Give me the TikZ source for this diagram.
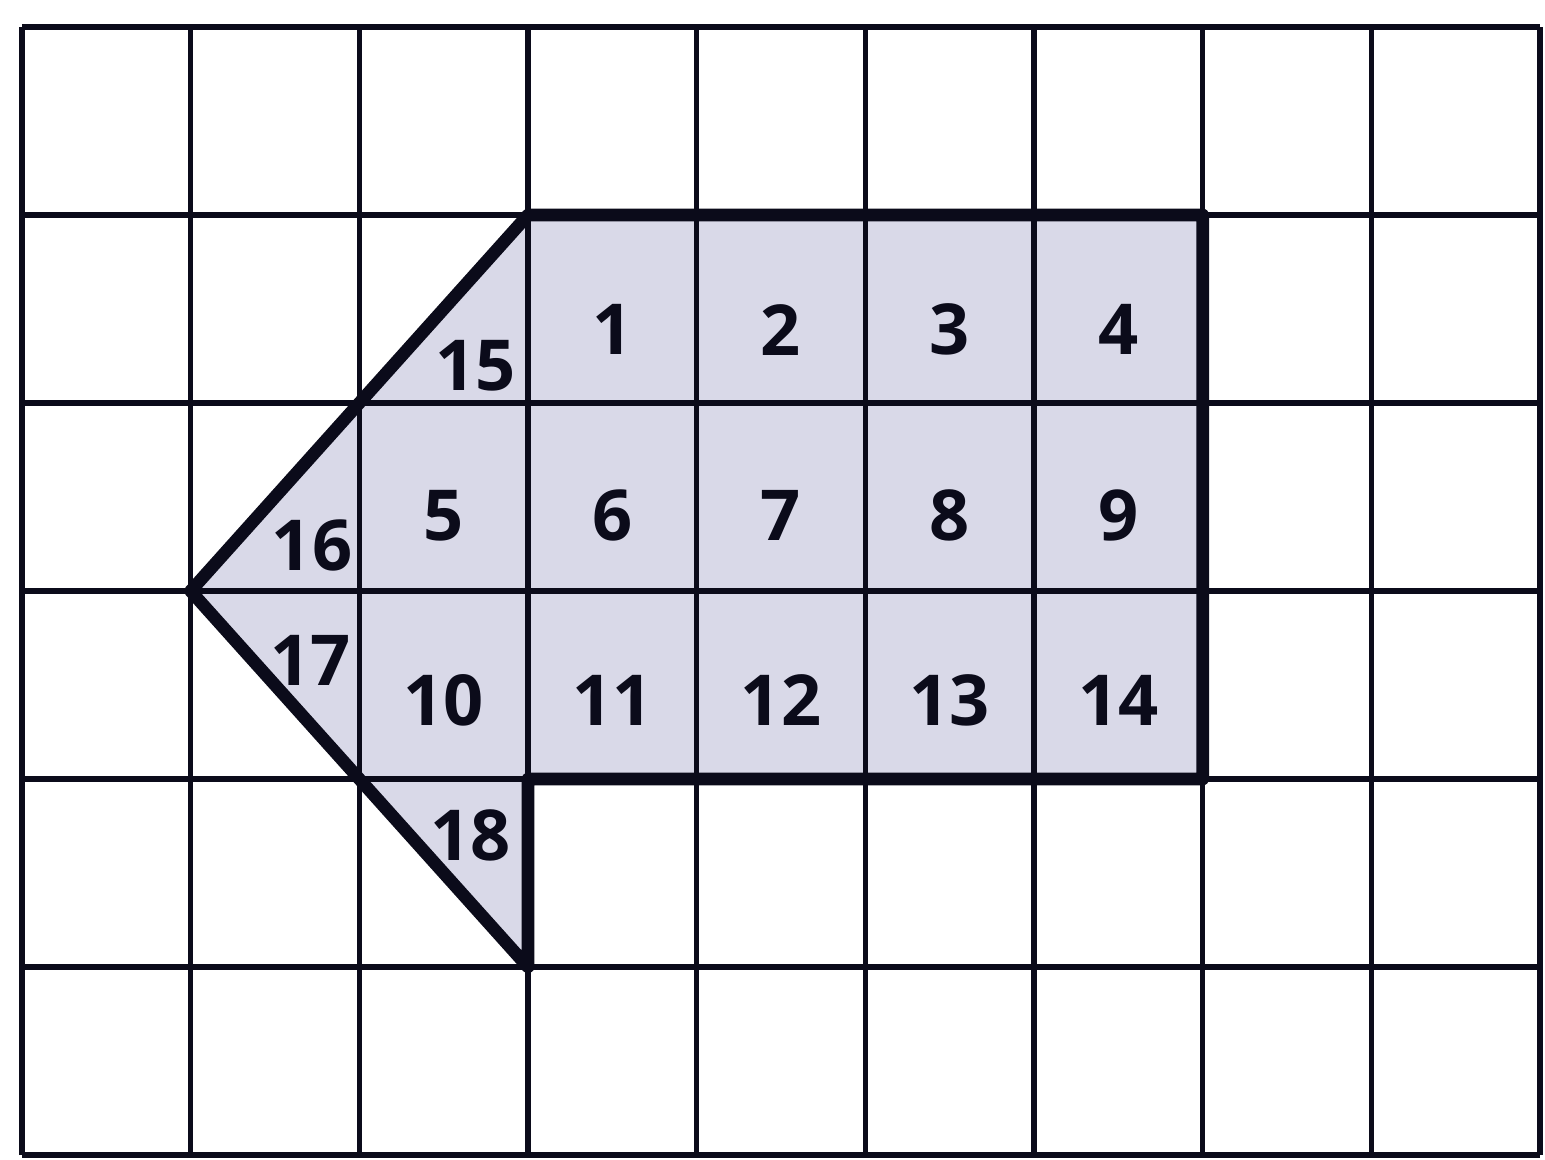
\documentclass[tikz,border=0pt]{standalone}
\usepackage{fontspec}
\setmainfont{Open Sans}
\usepackage{tikz}
\usetikzlibrary{positioning}
\tikzset{
	gridline/.style={ % tynde streger i gitteret
			line width=1.5pt,
			draw=inkblack
		},
	outline/.style={ % kanten af figuren
			line width=3.6pt,
			draw=inkblack,
			line join=round
		},
	cellnum/.style={
			font=\bfseries\fontsize{20}{20}\selectfont,
			text=inkblack,
			inner sep=0pt
		}
}
\definecolor{inkblack}{HTML}{0B0B1A}
\definecolor{ShadeLavender}{HTML}{D9D9E8}

\begin{document}
\begin{tikzpicture}[x=1.6867cm, y=1.88cm]
			\useasboundingbox (-0.1304,-0.0213) rectangle (9.0295,6.1436);

			% Figur
			\fill[ShadeLavender] (3,5) -- (7,5) -- (7,2) -- (3,2) -- (3,1) -- (1,3) -- cycle;
			\foreach \i in {0,...,9} \draw[gridline] (\i,0) -- (\i,6);
			\foreach \j in {0,...,6} \draw[gridline] (0,\j) -- (9,\j);
			\draw[outline] (3,5) -- (7,5) -- (7,2) -- (3,2) -- (3,1) -- (1,3) -- cycle;

			% Nodes
			\node (n1) [cellnum] at (3.5, 4.39) {1};
			\node (n2) [cellnum] at (4.5, 4.39) {2};
			\node (n3) [cellnum] at (5.5, 4.39) {3};
			\node (n4) [cellnum] at (6.5, 4.39) {4};
			\node (n5) [cellnum] at (2.5, 3.40) {5};
			\node (n6) [cellnum] at (3.5, 3.40) {6};
			\node (n7) [cellnum] at (4.5, 3.40) {7};
			\node (n8) [cellnum] at (5.5, 3.40) {8};
			\node (n9) [cellnum] at (6.5, 3.40) {9};
			\node (n10) [cellnum] at (2.5, 2.42) {10};
			\node (n11) [cellnum] at (3.5, 2.42) {11};
			\node (n12) [cellnum] at (4.5, 2.42) {12};
			\node (n13) [cellnum] at (5.5, 2.42) {13};
			\node (n14) [cellnum] at (6.5, 2.42) {14};

			% Trekanter
			\node (n15) [cellnum] at (2.69, 4.20) {15};
			\node (n16) [cellnum] at (1.72, 3.24) {16};
			\node (n17) [cellnum] at (1.71, 2.63) {17};
			\node (n18) [cellnum] at (2.66, 1.70) {18};

		\end{tikzpicture}
\end{document}
